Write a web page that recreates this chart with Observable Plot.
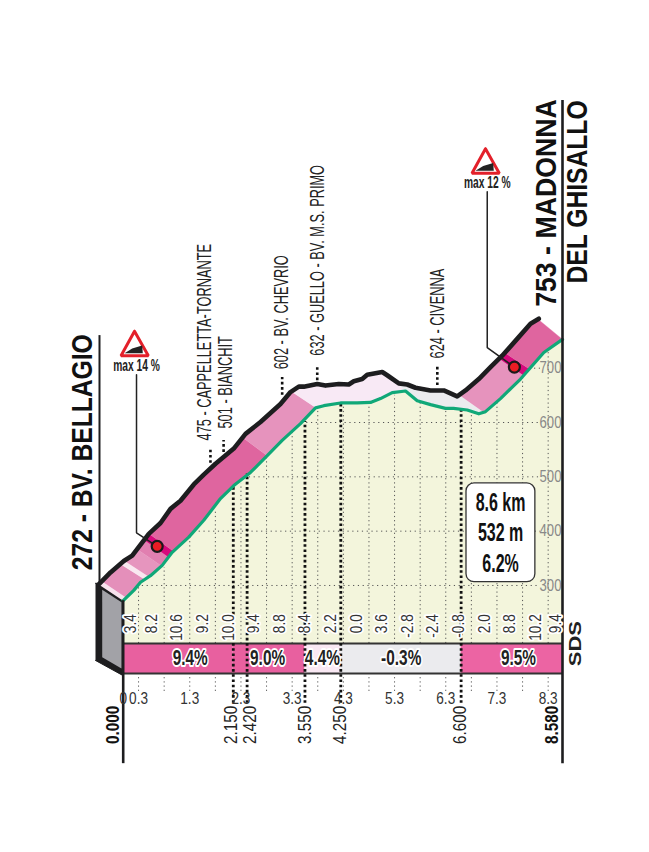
<!DOCTYPE html>
<html>
<head>
<meta charset="utf-8">
<script src="https://cdn.jsdelivr.net/npm/d3@7"></script>
<script src="https://cdn.jsdelivr.net/npm/@observablehq/plot@0.6"></script>
<style>html,body{margin:0;padding:0;background:#fff}svg{display:block}</style>
</head>
<body>
<div id="chart"></div>
<script>
// ---- climb profile (km, metres): road edge (green)
const profileKm  = [0,0.207,0.338,0.533,0.762,0.957,1.281,1.574,1.9,2.16,2.486,2.813,3.105,3.463,3.756,3.918,4.244,4.57,4.83,5.025,5.254,5.514,5.742,6.002,6.295,6.451,6.719,6.945,7.076,7.369,7.76,8.215,8.58];
const profileAlt = [272,291,306,318,337,361,389,420,460,484,508,539,567,598,627,631,636,636,637,644,655,658,640,633,626,626,623,616,620,644,680,729,753];
// upper edge of the drawn ribbon (black)
const topKm  = [-0.477,-0.248,0.012,0.176,0.5,0.729,0.924,1.119,1.379,1.574,1.803,2.16,2.389,2.682,3.072,3.268,3.43,3.527,3.789,3.951,4.211,4.406,4.504,4.668,4.766,5.059,5.156,5.383,5.547,5.709,6.002,6.133,6.262,6.523,6.686,6.945,7.174,7.402,7.695,7.955,8.117];
const topAlt = [302,324,345,355,395,415,441,456,486,504,524,552,579,601,634,656,666,666,671,668,671,670,676,680,688,693,687,672,670,664,659,659,659,648,659,680,702,723,754,782,791];

// ribbon colour bands (start km, end km, colour)
const bandStart = [0,0.06,0.42,0.5,0.75,0.885,0.98,2.81,3.76,5.6,7.04,7.82,7.93];
const bandEnd   = [0.06,0.42,0.5,0.75,0.885,0.98,2.81,3.76,5.6,7.04,7.82,7.93,8.58];
const bandColor = ["#f7e2ed","#e48fba","#f9e8f0","#e695be","#e17fb0","#d6097c","#df659f","#e693bd","#f8e9f5","#ebebee","#e693bd","#d6097c","#df659f"];
const ribbonKm = -0.478; // horizontal depth of the ribbon

// section strip
const sectionStart = [0,2.15,3.55,4.25,6.6];
const sectionEnd   = [2.15,3.55,4.25,6.6,8.58];
const sectionColor = ["#e8609f","#e8609f","#f9e8f3","#ebebee","#ec64a3"];
const sectionGrade = ["9.4%","9.0%","4.4%","-0.3%","9.5%"];
const sectionLabelKm = [1.31,2.82,3.89,5.43,7.72];

// half-km gradients
const gradeKm = [0.15,0.55,1.05,1.55,2.05,2.55,3.05,3.55,4.05,4.55,5.05,5.55,6.05,6.55,7.05,7.55,8.05,8.44];
const gradeText = ["3.4","8.2","10.6","9.2","10.0","9.4","8.8","8.4","2.2","0.0","3.6","-2.8","-2.4","-0.8","2.0","8.8","10.2","9.4"];

// grid
const gridKm = [0.3,0.8,1.3,1.8,2.3,2.8,3.3,3.8,4.3,4.8,5.3,5.8,6.3,6.8,7.3,7.8,8.3];
const gridTopAlt = [303,333,388,438,487,535,586,630,636,636,650,638,626,620,637,684,738];
const gridAlt = [300,400,500,600,700];
const gridAltFromKm = [0.28,1.39,2.37,3.49,7.94];
const kmTicks = [0,0.3,1.3,2.3,3.3,4.3,5.3,6.3,7.3,8.3];

// cut points
const cutKm = [2.15,2.42,3.55,4.25,6.6];
const cutAlt = [484,505,602,636,624];
const cutLabels = ["2.150","2.420","3.550","4.250","6.600"];
const cutLabelKm = [2.11,2.486,3.55,4.24,6.58];
const endLabels = ["0.000","8.580"];
const endLabelKm = [-0.19,8.38];

// places
const placeText = ["475 - CAPPELLETTA-TORNANTE","501 - BIANCHIT","602 - BV. CHEVRIO","632 - GUELLO - BV. M.S. PRIMO","624 - CIVENNA"];
const placeKm = [1.588,2.0,3.09,3.805,6.148];
const placeAlt = [567,589,698,723,718];
const placeTickKm = [1.704,1.961,3.105,3.79,6.135];
const placeTick1 = [525,545,650,677,668];
const placeTick2 = [549,567,683,705,705];

// steepest points
const maxKm = [0.664,7.64];
const maxAlt = [372,702];
const maxText = ["max 14 %","max 12 %"];
const maxSignKm = [0.221,7.076];
const maxSignAlt = [768,1104];
const maxTextKm = [0.26,7.11];
const maxTextAlt = [705,1042];
const maxElbowKm = [0.26,7.11];
const maxElbowAlt = [397,738];
const maxTopAlt = [688,1025];
const signKm = [0,-0.264,0.27,0];
const signAlt = [0,-45,-45,0];
const wedgeKm = [-0.195,0.162,0.15,-0.045];
const wedgeAlt = [-40.5,-40.5,-26.3,-31.8];

// start block
const blockKm = [-0.541,-0.482,0,0,-0.541];
const blockAlt = [304,304,272,134,162];
const faceKm = [-0.41,-0.033,-0.033,-0.41];
const faceAlt = [292,269,147,168];

// summary
const summaryText = ["8.6 km","532 m","6.2%"];
const summaryAlt = [451,396,339];

// ---- helpers
const lerpAt = (xs, ys, k) => {
  const i = Math.min(d3.bisectRight(xs, k), xs.length - 1);
  const a = Math.max(i - 1, 0);
  const t = Math.max(0, Math.min(1, (k - xs[a]) / ((xs[i] - xs[a]) || 1)));
  return ys[a] + t * (ys[i] - ys[a]);
};
const profile = profileKm.map((km, i) => ({km, alt: profileAlt[i]}));
const topEdge = topKm.map((km, i) => ({km, alt: topAlt[i]}));
const ribbon = bandStart.flatMap((s, b) => {
  const e = bandEnd[b];
  const low = [s, ...profileKm.filter(k => k > s && k < e), e].map(km => ({km, alt: lerpAt(profileKm, profileAlt, km)}));
  const ts = s + ribbonKm, te = e + ribbonKm;
  const up = [ts, ...topKm.filter(k => k > ts && k < te), te].map(km => ({km, alt: lerpAt(topKm, topAlt, km)})).reverse();
  return [...low, ...up].map(p => ({...p, band: b, color: bandColor[b]}));
});
const polyRows = (kms, alts) => kms.map((km, i) => ({km, alt: alts[i]}));

const FONT = "'Liberation Sans Narrow','Liberation Sans',sans-serif";
const INK = "#1d1d1f";
const rot = {rotate: -90, textAnchor: "start", fontFamily: FONT};

const marks = [
  // ground
  Plot.areaY(profile, {x: "km", y1: 193, y2: "alt", fill: "#f3f5dc"}),
  // grid
  Plot.ruleX(gridKm.map((km, i) => ({km, top: gridTopAlt[i]})), {x: "km", y1: 193, y2: "top", stroke: "#555", strokeWidth: 1, strokeDasharray: "1.2 3"}),
  Plot.ruleX(gridKm, {y1: 105, y2: 134, stroke: "#555", strokeWidth: 1, strokeDasharray: "1.2 3"}),
  Plot.ruleY(gridAlt.map((a, i) => ({a, from: gridAltFromKm[i]})), {y: "a", x1: "from", x2: 8.15, stroke: "#555", strokeWidth: 1, strokeDasharray: "1.2 3.6"}),
  // altitude labels
  Plot.axisY(gridAlt, {anchor: "right", tickSize: 0, tickPadding: 0, label: null, dx: -12, fontSize: 16, fill: "#888", textAnchor: "middle", className: "k82"}),
  // strip
  Plot.rect(sectionStart.map((s, i) => ({s, e: sectionEnd[i], c: sectionColor[i]})), {x1: "s", x2: "e", y1: 138, y2: 193, fill: d => d.c, inset: 0}),
  Plot.ruleY([138, 193], {x1: 0, x2: 8.58, stroke: "#333", strokeWidth: 2}),
  // start block
  Plot.line(polyRows(blockKm, blockAlt), {x: "km", y: "alt", fill: INK, stroke: INK, strokeWidth: 1}),
  Plot.line(polyRows(faceKm, faceAlt), {x: "km", y: "alt", fill: "#a2a2a7", stroke: "none"}),
  // ribbon
  Plot.line(ribbon, {x: "km", y: "alt", z: "band", fill: "color", stroke: "color", strokeWidth: 0.4}),
  // cut lines
  Plot.ruleX(cutKm.map((k, i) => ({k, a: cutAlt[i]})), {x: "k", y1: 83, y2: "a", stroke: "#111", strokeWidth: 2.8, strokeDasharray: "2.6 2.6"}),
  // edges
  Plot.line(profile, {x: "km", y: "alt", stroke: "#10a878", strokeWidth: 3.2, strokeLinejoin: "round"}),
  Plot.line(topEdge, {x: "km", y: "alt", stroke: INK, strokeWidth: 4.6, strokeLinecap: "round", strokeLinejoin: "round"}),
  // frame lines
  Plot.ruleX([0], {y1: -28, y2: 272, stroke: INK, strokeWidth: 2.6}),
  Plot.ruleX([8.58], {y1: -28, y2: 1193, stroke: INK, strokeWidth: 2.6}),
  Plot.ruleX([-0.463], {y1: 304, y2: 760, stroke: INK, strokeWidth: 2}),
  // place leaders
  Plot.ruleX(placeTickKm.map((k, i) => ({k, a: placeTick1[i], b: placeTick2[i]})), {x: "k", y1: "a", y2: "b", stroke: "#111", strokeWidth: 2.6, strokeDasharray: "2.6 2.6"}),
  // grade labels
  Plot.text(gradeText, {x: (d, i) => gradeKm[i], y: 247, text: d => d, rotate: -90, textAnchor: "end", fontFamily: FONT, fontSize: 17, fill: "#333", stroke: "#fff", strokeWidth: 4, paintOrder: "stroke", className: "k80"}),
  // section percentages
  Plot.text(sectionGrade, {x: (d, i) => sectionLabelKm[i], y: 166, text: d => d, fontFamily: FONT, fontWeight: "bold", fontSize: 22, fill: "#222", stroke: "#fff", strokeWidth: 4, paintOrder: "stroke", className: "k70"}),
  // km axis
  Plot.axisX(kmTicks, {anchor: "bottom", tickSize: 0, tickPadding: 0, label: null, tickFormat: d => d === 0 ? "0" : d3.format(".1f")(d), fontSize: 16, fill: "#333", className: "k85"}),
  // cut labels
  Plot.text(cutLabels, {x: (d, i) => cutLabelKm[i], y: 8, text: d => d, ...rot, fontSize: 18, fill: "#222", className: "k85"}),
  Plot.text(endLabels, {x: (d, i) => endLabelKm[i], y: 8, text: d => d, ...rot, fontWeight: "bold", fontSize: 18, fill: "#111", className: "k85"}),
  // places
  Plot.text(placeText, {x: (d, i) => placeKm[i], y: (d, i) => placeAlt[i], text: d => d, ...rot, fontSize: 20, fill: "#222", className: "k64"}),
  // titles
  Plot.text(["272 - BV. BELLAGIO"], {x: -0.795, y: 328, text: d => d, ...rot, fontWeight: "bold", fontSize: 29, fill: "#111", className: "k85"}),
  Plot.text(["753 - MADONNA"], {x: 8.268, y: 813, text: d => d, ...rot, fontWeight: "bold", fontSize: 29, fill: "#111", className: "k92"}),
  Plot.text(["DEL GHISALLO"], {x: 8.873, y: 856, text: d => d, ...rot, fontWeight: "bold", fontSize: 29, fill: "#111", className: "k85"}),
  Plot.text(["SDS"], {x: 8.84, y: 193, text: d => d, rotate: -90, fontFamily: "'Liberation Sans',sans-serif", fontWeight: "bold", fontSize: 17, fill: "#222", className: "k130"}),
  // steepest markers
  ...maxKm.flatMap((k, i) => [
    Plot.line([[maxElbowKm[i], maxTopAlt[i]], [maxElbowKm[i], maxElbowAlt[i]], [k, maxAlt[i]]], {stroke: "#222", strokeWidth: 1.5}),
    Plot.line(polyRows(signKm.map(v => v + maxSignKm[i]), signAlt.map(v => v + maxSignAlt[i])), {x: "km", y: "alt", fill: "#fff", stroke: "#e3202a", strokeWidth: 3, strokeLinejoin: "miter"}),
    Plot.line(polyRows(wedgeKm.map(v => v + maxSignKm[i]), wedgeAlt.map(v => v + maxSignAlt[i])), {x: "km", y: "alt", fill: "#222", stroke: "none"}),
    Plot.dot([[k, maxAlt[i]]], {r: 5.5, fill: "#ea1c24", stroke: "#1a1a1a", strokeWidth: 2.2}),
    Plot.text([maxText[i]], {x: maxTextKm[i], y: maxTextAlt[i], text: d => d, fontFamily: FONT, fontWeight: "bold", fontSize: 16, fill: "#222", className: "k64"})
  ]),
  // summary box
  Plot.rect([0], {x1: 6.705, x2: 8.05, y1: 306, y2: 488, fill: "#fff", stroke: "#333", strokeWidth: 1.3, rx: 8}),
  Plot.text(summaryText, {x: 7.37, y: (d, i) => summaryAlt[i], text: d => d, fontFamily: FONT, fontWeight: "bold", fontSize: 25, fill: "#111", className: "k64"})
];

const chart = Plot.plot({
  width: 649, height: 852,
  marginLeft: 122.7, marginRight: 87, marginTop: 338.9, marginBottom: 160,
  x: {domain: [0, 8.58], axis: null},
  y: {domain: [103, 753], axis: null},
  style: {background: "#fff", fontFamily: FONT, overflow: "visible"},
  marks
});

// condensed lettering: the narrowest installed face is still wider than the original's
[["k64", .64], ["k70", .7], ["k80", .8], ["k82", .82], ["k85", .85], ["k92", .92], ["k130", 1.3]].forEach(([cls, k]) =>
  chart.querySelectorAll(`.${cls} text`).forEach(t =>
    t.setAttribute("transform", (t.getAttribute("transform") || "") + ` scale(${k},1)`)));

document.getElementById("chart").append(chart);
</script>
</body>
</html>
